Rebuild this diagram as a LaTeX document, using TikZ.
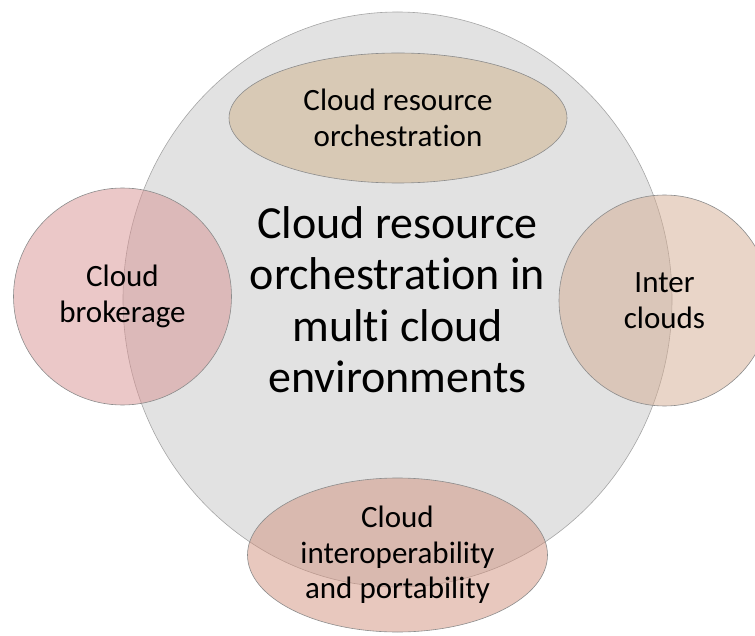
\documentclass[tikz,border=0pt]{standalone}
\usepackage{fontspec}
\setmainfont{Carlito}[Ligatures=NoCommon]
\usepackage{tikz}
\usetikzlibrary{shapes.geometric}
\pgfdeclarelayer{background}
\pgfsetlayers{background,main}
\definecolor{hubgray}{RGB}{226,226,226}
\definecolor{tanfill}{RGB}{208,178,138}
\definecolor{rosefill}{RGB}{215,145,145}
\definecolor{peachfill}{RGB}{211,171,145}
\definecolor{salmonfill}{RGB}{209,145,125}
\tikzset{
  bubble/.style={ellipse,draw=black!45,line width=0.6pt,fill opacity=0.5,
    text opacity=1,inner sep=0pt,align=center,
    font=\fontsize{31}{35.5}\selectfont}
}

\begin{document}
\begin{tikzpicture}[x=1pt,y=-1pt]
\useasboundingbox (0,0) rectangle (755,636);
\begin{pgfonlayer}{background}
\node[ellipse,draw=black!35,line width=0.6pt,fill=hubgray,minimum width=549pt,minimum height=575pt,
  inner sep=0pt,align=center,font=\fontsize{46}{51.5}\selectfont] (hub) at (397.5,299.5)
  {Cloud resource\\orchestration in\\multi cloud\\environments};
\end{pgfonlayer}
\node[bubble,fill=tanfill,minimum width=338pt,minimum height=130pt] (orch) at (398,118)
  {Cloud resource\\orchestration};
\node[bubble,fill=rosefill,minimum width=218pt,minimum height=217pt] (broker) at (122.5,296.5)
  {Cloud\\brokerage};
\node[bubble,fill=peachfill,minimum width=211pt,minimum height=211pt] (inter) at (664.5,300.5)
  {Inter\\clouds};
\node[bubble,fill=salmonfill,minimum width=300pt,minimum height=154pt] (interop) at (397.5,555)
  {Cloud\\interoperability\\and portability};
\end{tikzpicture}
\end{document}
